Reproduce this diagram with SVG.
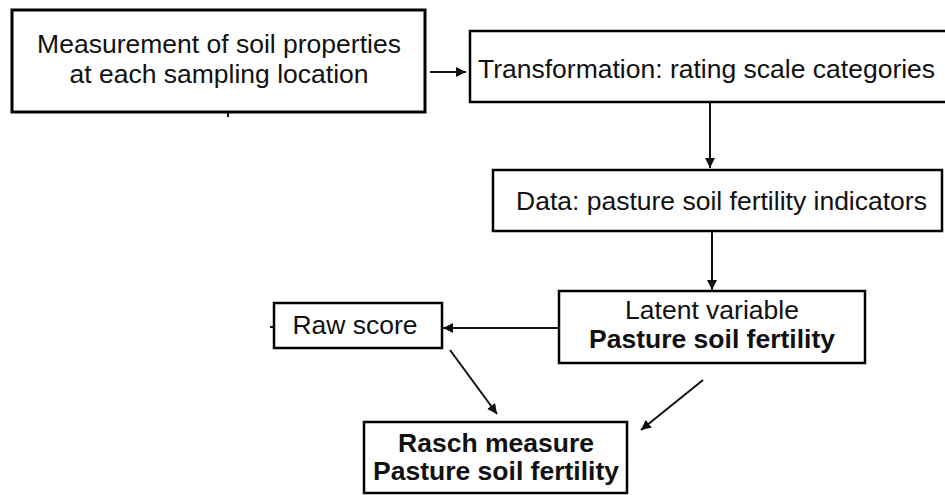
<svg xmlns="http://www.w3.org/2000/svg" width="945" height="495" viewBox="0 0 945 495">
<style>
.box{fill:#fff;stroke:#000;stroke-width:2.5}
.t{font-family:"Liberation Sans",Arial,sans-serif;font-size:26.5px;fill:#111}
.b{font-weight:bold}
.c{stroke:#111;stroke-width:2;fill:none}
</style>
<defs>
<marker id="ah" viewBox="0 0 10 10" refX="10" refY="5" markerWidth="5" markerHeight="5" orient="auto" markerUnits="strokeWidth">
<path d="M0,0 L10,5 L0,10 z" fill="#111"/>
</marker>
</defs>
<rect width="945" height="495" fill="#fff"/>
<g id="connectors">
<line class="c" x1="430" y1="72" x2="466" y2="72" marker-end="url(#ah)"/>
<line class="c" x1="710" y1="103" x2="710" y2="168" marker-end="url(#ah)"/>
<line class="c" x1="712" y1="232" x2="712" y2="290" marker-end="url(#ah)"/>
<line class="c" x1="559" y1="328" x2="443" y2="328" marker-end="url(#ah)"/>
<line class="c" x1="450" y1="350" x2="497" y2="414" marker-end="url(#ah)"/>
<line class="c" x1="703" y1="380" x2="641" y2="430" marker-end="url(#ah)"/>
<line class="c" x1="228" y1="113" x2="228" y2="117"/>
<line class="c" x1="270" y1="327" x2="274" y2="327"/>
</g>
<g id="n1">
<rect class="box" x="12" y="10" width="413" height="102" style="stroke-width:3"/>
<text class="t" x="219" y="53" text-anchor="middle">Measurement of soil properties</text>
<text class="t" x="219" y="83" text-anchor="middle">at each sampling location</text>
</g>
<g id="n2">
<rect class="box" x="470" y="31" width="490" height="71"/>
<text class="t" x="478" y="78">Transformation: rating scale categories</text>
</g>
<g id="n3">
<rect class="box" x="493" y="170" width="449" height="61"/>
<text class="t" x="516" y="210">Data: pasture soil fertility indicators</text>
</g>
<g id="n4">
<rect class="box" x="559" y="291" width="306" height="72"/>
<text class="t" x="712" y="319" text-anchor="middle">Latent variable</text>
<text class="t b" x="712" y="348" text-anchor="middle">Pasture soil fertility</text>
</g>
<g id="n5">
<rect class="box" x="274" y="303" width="168" height="45"/>
<text class="t" x="355" y="334" text-anchor="middle">Raw score</text>
</g>
<g id="n6">
<rect class="box" x="364" y="422" width="263" height="71"/>
<text class="t b" x="496" y="452" text-anchor="middle">Rasch measure</text>
<text class="t b" x="496" y="480" text-anchor="middle">Pasture soil fertility</text>
</g>
</svg>
